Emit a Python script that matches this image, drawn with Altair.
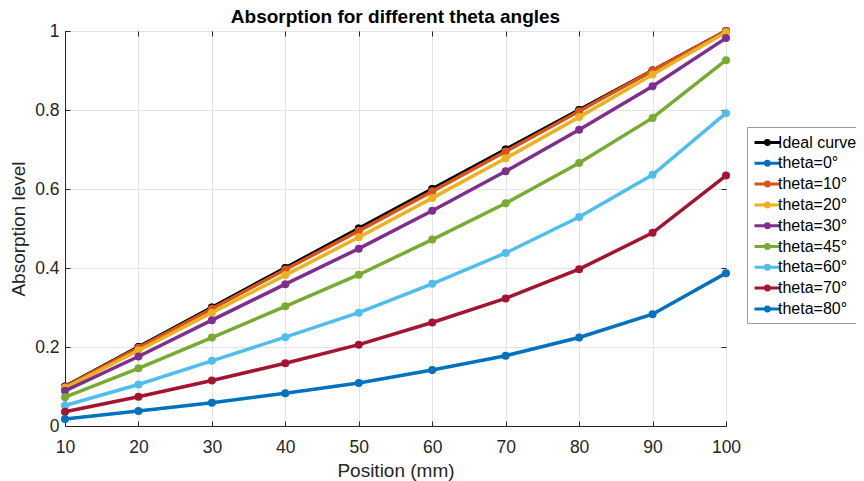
import altair as alt
import pandas as pd

positions = [10, 20, 30, 40, 50, 60, 70, 80, 90, 100]
ideal = [0.1, 0.2, 0.3, 0.4, 0.5, 0.6, 0.7, 0.8, 0.9, 1.0]
theta0 = [0.1, 0.2, 0.3, 0.4, 0.5, 0.6, 0.7, 0.8, 0.9, 1.0]
theta10 = [0.099, 0.198, 0.297, 0.396, 0.494, 0.594, 0.695, 0.797, 0.900, 1.000]
theta20 = [0.096, 0.191, 0.287, 0.382, 0.478, 0.577, 0.678, 0.782, 0.890, 0.997]
theta30 = [0.089, 0.176, 0.268, 0.359, 0.449, 0.545, 0.645, 0.750, 0.860, 0.982]
theta45 = [0.073, 0.146, 0.224, 0.303, 0.383, 0.472, 0.564, 0.666, 0.780, 0.926]
theta60 = [0.052, 0.105, 0.165, 0.225, 0.287, 0.360, 0.438, 0.529, 0.636, 0.792]
theta70 = [0.036, 0.074, 0.115, 0.159, 0.206, 0.262, 0.323, 0.397, 0.489, 0.634]
theta80 = [0.018, 0.038, 0.059, 0.083, 0.109, 0.142, 0.178, 0.224, 0.283, 0.387]

series_names = ["Ideal curve", "theta=0°", "theta=10°", "theta=20°", "theta=30°",
                "theta=45°", "theta=60°", "theta=70°", "theta=80°"]
series_values = [ideal, theta0, theta10, theta20, theta30, theta45, theta60, theta70, theta80]
series_colors = ["#000000", "#0072BD", "#D95319", "#EDB120", "#7E2F8E",
                 "#77AC30", "#4DBEEE", "#A2142F", "#0072BD"]
draw_order = ["theta=0°", "Ideal curve", "theta=10°", "theta=20°", "theta=30°",
              "theta=45°", "theta=60°", "theta=70°", "theta=80°"]
y_ticks = [0, 0.2, 0.4, 0.6, 0.8, 1.0]

rows = []
for name, vals in zip(series_names, series_values):
    for p, v in zip(positions, vals):
        rows.append({"series": name, "position": p, "absorption": v})
df = pd.DataFrame(rows)

FONT = "Liberation Sans"
TXT = "#262626"

color_scale = alt.Scale(domain=series_names, range=series_colors)
xscale = alt.Scale(domain=[10, 100], nice=False)
yscale = alt.Scale(domain=[0, 1], nice=False)

legend_symbol = "M-1,0 L2.2,0 M0.85,0 A0.25,0.25 0 1,1 0.35,0 A0.25,0.25 0 1,1 0.85,0"

main_x_axis = alt.Axis(values=positions, ticks=False, grid=True, gridColor="#e3e3e3",
                       domainColor=TXT, labelFontSize=17.5, labelFont=FONT, labelColor=TXT,
                       labelPadding=12, labelFlush=False, labelOverlap=False,
                       title="Position (mm)", titleFontSize=19,
                       titleFont=FONT, titleFontWeight="normal", titleColor=TXT, titlePadding=6)
main_y_axis = alt.Axis(values=y_ticks, format="~g", ticks=False, grid=True,
                       gridColor="#e3e3e3", domainColor=TXT, labelFontSize=17.5, labelFont=FONT,
                       labelColor=TXT, labelPadding=6, labelFlush=False, labelOverlap=False,
                       title="Absorption level", titleFontSize=19,
                       titleFont=FONT, titleFontWeight="normal", titleColor=TXT, titlePadding=6)

layers = []
for i, name in enumerate(draw_order):
    if i == 0:
        xenc = alt.X("position:Q", scale=xscale, axis=main_x_axis)
        yenc = alt.Y("absorption:Q", scale=yscale, axis=main_y_axis)
    else:
        xenc = alt.X("position:Q", scale=xscale, axis=None)
        yenc = alt.Y("absorption:Q", scale=yscale, axis=None)
    layer = alt.Chart(df).transform_filter(
        alt.datum.series == name
    ).mark_line(
        strokeWidth=3.5,
        point=alt.OverlayMarkDef(filled=True, size=64, opacity=1),
    ).encode(
        x=xenc,
        y=yenc,
        color=alt.Color("series:N", scale=color_scale,
                        legend=alt.Legend(title=None, orient="none", legendX=682, legendY=96,
                                          symbolType=legend_symbol, symbolSize=256,
                                          symbolStrokeWidth=3, labelFontSize=16, labelFont=FONT,
                                          labelColor="#000000", labelOffset=6, rowPadding=2.8,
                                          padding=6, strokeColor="#9a9a9a", fillColor="#ffffff")),
    )
    layers.append(layer)

def tick_axis(orient_x, orient_y):
    return alt.Chart(df).mark_point(opacity=0).encode(
        x=alt.X("position:Q", scale=xscale,
                axis=alt.Axis(orient=orient_x, values=positions, offset=-5, tickSize=5,
                              tickColor=TXT, domain=False, labels=False, grid=False, title=None)),
        y=alt.Y("absorption:Q", scale=yscale,
                axis=alt.Axis(orient=orient_y, values=y_ticks, offset=-5,
                              tickSize=5, tickColor=TXT, domain=False, labels=False,
                              grid=False, title=None)),
    )

layers.append(tick_axis("bottom", "left"))
layers.append(tick_axis("top", "right"))

chart = alt.layer(*layers).resolve_axis(x="independent", y="independent").properties(
    width=661,
    height=395,
    autosize=alt.AutoSizeParams(type="none"),
    padding={"left": 57, "top": 23, "right": 130, "bottom": 57},
    title=alt.TitleParams("Absorption for different theta angles", fontSize=19,
                          fontWeight="bold", font=FONT, color="#000000", anchor="middle",
                          frame="group", baseline="alphabetic", offset=0, dy=20),
).configure_view(stroke=TXT, strokeWidth=1).configure(background="#ffffff")

chart.save("out.html", embed_options={"renderer": "svg", "actions": False})
